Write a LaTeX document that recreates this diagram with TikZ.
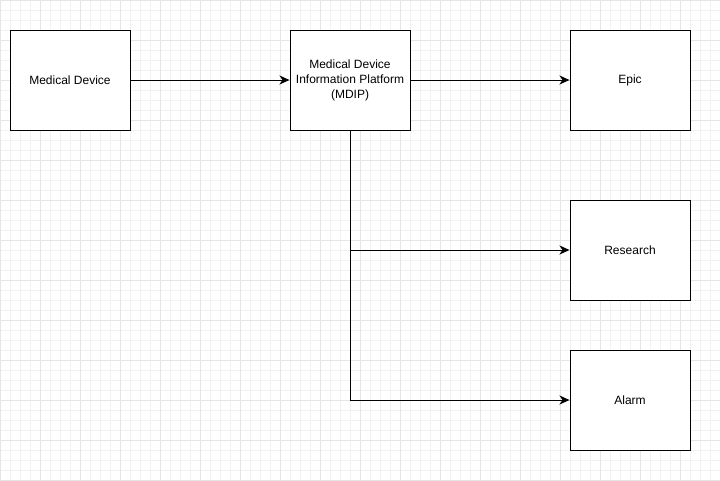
\documentclass[tikz,border=0pt]{standalone}
\usepackage{fontspec}
\setmainfont{Liberation Sans}
\usetikzlibrary{arrows.meta}
\begin{document}
\begin{tikzpicture}[x=1pt,y=-1pt,
  minorgrid/.style={draw=black!5,line width=0.8pt},
  majorgrid/.style={draw=black!10,line width=0.8pt},
  box/.style={draw=black,line width=1pt,fill=white,minimum width=120pt,minimum height=100pt,inner sep=0pt,align=center,font=\fontsize{12}{15}\selectfont},
  conn/.style={draw=black,line width=1pt,-{Stealth[length=10pt,width=9pt,inset=3pt]}}]
\useasboundingbox (0,0) rectangle (720,480);
\fill[white] (0,0) rectangle (720,480);
\foreach \i in {0,10,...,720} {\draw[minorgrid] (\i,0) -- (\i,480);}
\foreach \j in {0,10,...,480} {\draw[minorgrid] (0,\j) -- (720,\j);}
\foreach \i in {0,40,...,720} {\draw[majorgrid] (\i,0) -- (\i,480);}
\foreach \j in {0,40,...,480} {\draw[majorgrid] (0,\j) -- (720,\j);}
\node[box] (md) at (70,80) {Medical Device};
\node[box] (mdip) at (350,80) {Medical Device\\Information Platform\\(MDIP)};
\node[box] (epic) at (630,80) {Epic};
\node[box] (research) at (630,250) {Research};
\node[box] (alarm) at (630,400) {Alarm};
\draw[conn] (md) -- (mdip);
\draw[conn] (mdip) -- (epic);
\draw[conn] (mdip.south) |- (research);
\draw[conn] (mdip.south) |- (alarm);
\end{tikzpicture}
\end{document}
